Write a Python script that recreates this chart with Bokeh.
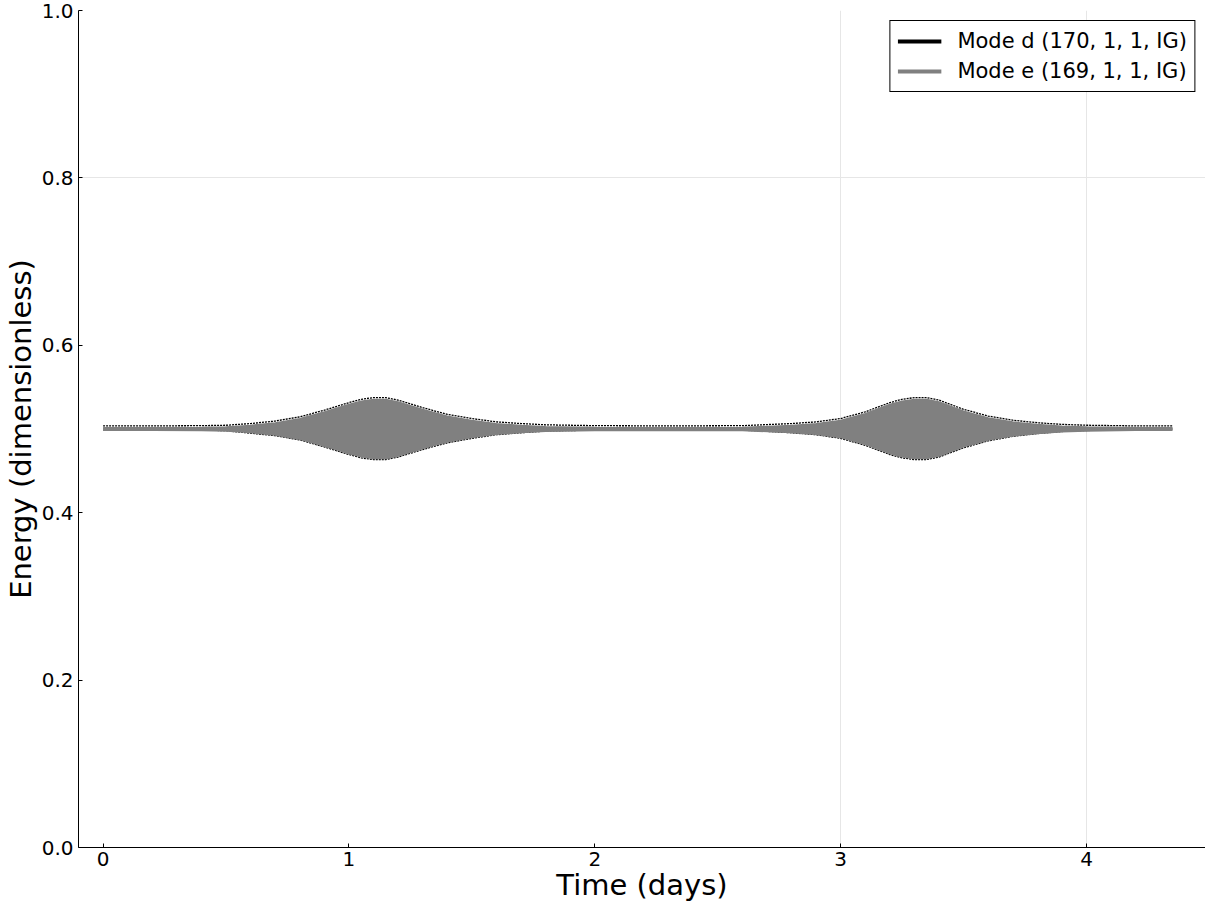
from bokeh.plotting import figure
from bokeh.models import FixedTicker, Legend, LegendItem, Range1d, NumeralTickFormatter
from bokeh.embed import file_html
from bokeh.resources import INLINE

# ---- data: envelopes of the fast energy exchange ----
time_days = [0.0, 0.2, 0.4, 0.5, 0.6, 0.7, 0.8, 0.9, 1.0, 1.05, 1.1, 1.15, 1.2,
             1.3, 1.4, 1.5, 1.6, 1.7, 1.8, 2.0, 2.3, 2.6, 2.8, 2.9, 3.0, 3.1,
             3.2, 3.25, 3.3, 3.35, 3.4, 3.5, 3.6, 3.7, 3.8, 3.9, 4.0, 4.2, 4.35]
mean_energy = 0.5
# half-width of the oscillation band of mode e (gray)
mode_e_amplitude = [0.0012, 0.0012, 0.0015, 0.002, 0.004, 0.007, 0.012, 0.020,
                    0.029, 0.033, 0.035, 0.035, 0.032, 0.023, 0.015, 0.010,
                    0.006, 0.004, 0.0025, 0.0015, 0.0012, 0.0015, 0.004, 0.006,
                    0.010, 0.018, 0.029, 0.033, 0.035, 0.035, 0.032, 0.021,
                    0.013, 0.008, 0.005, 0.003, 0.002, 0.0012, 0.0012]
# excursion of mode d above the mean (black, dotted edge)
mode_d_above = [0.0037, 0.0037, 0.004, 0.0045, 0.0065, 0.0095, 0.0145, 0.0225,
                0.0315, 0.0355, 0.0375, 0.0375, 0.0345, 0.0255, 0.0175, 0.0125,
                0.0085, 0.0065, 0.005, 0.004, 0.0037, 0.004, 0.0065, 0.0085,
                0.0125, 0.0205, 0.0315, 0.0355, 0.0375, 0.0375, 0.0345, 0.0235,
                0.0155, 0.0105, 0.0075, 0.0055, 0.0045, 0.0037, 0.0037]
# excursion of mode d below the mean
mode_d_below = [0.0010, 0.0010, 0.0013, 0.002, 0.005, 0.008, 0.013, 0.0215,
                0.0305, 0.0345, 0.0365, 0.0365, 0.0335, 0.0245, 0.0165, 0.0112,
                0.0068, 0.0045, 0.0025, 0.0013, 0.0010, 0.0013, 0.0045, 0.0068,
                0.0112, 0.0195, 0.0305, 0.0345, 0.0365, 0.0365, 0.0335, 0.0225,
                0.0142, 0.0088, 0.0055, 0.0030, 0.0018, 0.0010, 0.0010]

x_ticks = [0, 1, 2, 3, 4]
y_ticks = [0.0, 0.2, 0.4, 0.6, 0.8, 1.0]
x_grid_at = [3, 4]
y_grid_at = [0.8]

label_d = "Mode d (170, 1, 1, IG)"
label_e = "Mode e (169, 1, 1, IG)"

mode_e_max = [mean_energy + a for a in mode_e_amplitude]
mode_e_min = [mean_energy - a for a in mode_e_amplitude]
mode_d_max = [mean_energy + a for a in mode_d_above]
mode_d_min = [mean_energy - a for a in mode_d_below]

FONT = "DejaVu Sans"
GRAY = "#808080"

p = figure(width=1205, height=904,
           x_range=Range1d(-0.10, 4.484), y_range=Range1d(0, 1),
           output_backend="svg", toolbar_location=None,
           min_border_left=60, min_border_right=0,
           min_border_top=10, min_border_bottom=50)
p.outline_line_color = None
p.background_fill_color = "white"

# mode d envelope (black dotted edges), drawn under the gray band
p.line(time_days, mode_d_max, line_color="black", line_width=1.3, line_dash="2 1")
p.line(time_days, mode_d_min, line_color="black", line_width=1.3, line_dash="2 1")
# mode e band (gray)
p.varea(x=time_days, y1=mode_e_min, y2=mode_e_max, fill_color=GRAY)
p.line(time_days, mode_e_max, line_color=GRAY, line_width=2)
p.line(time_days, mode_e_min, line_color=GRAY, line_width=2)

# legend entries (hidden renderers shown only as legend glyphs)
rd = p.line(time_days, mode_d_max, line_color="black", line_width=4, visible=False)
re = p.line(time_days, mode_e_max, line_color=GRAY, line_width=4, visible=False)
legend = Legend(items=[LegendItem(label=label_d, renderers=[rd]),
                       LegendItem(label=label_e, renderers=[re])],
                location="top_right", click_policy="none")
legend.inactive_fill_alpha = 0
legend.label_text_font = FONT
legend.label_text_font_size = "21px"
legend.label_text_color = "black"
legend.border_line_color = "black"
legend.border_line_width = 1
legend.border_line_alpha = 1
legend.background_fill_alpha = 1
legend.glyph_width = 44
legend.glyph_height = 26
legend.label_height = 26
legend.spacing = 4
legend.padding = 7
legend.margin = 10
legend.label_standoff = 16
p.add_layout(legend)

# axes
for ax in (p.xaxis[0], p.yaxis[0]):
    ax.axis_line_color = "black"
    ax.axis_line_width = 1
    ax.major_tick_in = 4
    ax.major_tick_out = 0
    ax.major_tick_line_color = "black"
    ax.minor_tick_line_color = None
    ax.major_label_text_font = FONT
    ax.major_label_text_font_size = "20px"
    ax.major_label_text_color = "black"
    ax.axis_label_text_font = FONT
    ax.axis_label_text_font_size = "29px"
    ax.axis_label_text_font_style = "normal"
    ax.axis_label_text_color = "black"

p.xaxis.ticker = FixedTicker(ticks=x_ticks)
p.yaxis.ticker = FixedTicker(ticks=y_ticks)
p.yaxis.formatter = NumeralTickFormatter(format="0.0")
p.xaxis.axis_label = "Time (days)"
p.yaxis.axis_label = "Energy (dimensionless)"
p.xaxis.major_label_standoff = 4
p.xaxis.axis_label_standoff = -1
p.yaxis.major_label_standoff = 5
p.yaxis.axis_label_standoff = 1

p.xgrid.ticker = FixedTicker(ticks=x_grid_at)
p.ygrid.ticker = FixedTicker(ticks=y_grid_at)
p.xgrid.grid_line_color = "#e6e6e6"
p.ygrid.grid_line_color = "#e6e6e6"

open("out.html", "w").write(file_html(p, INLINE))
